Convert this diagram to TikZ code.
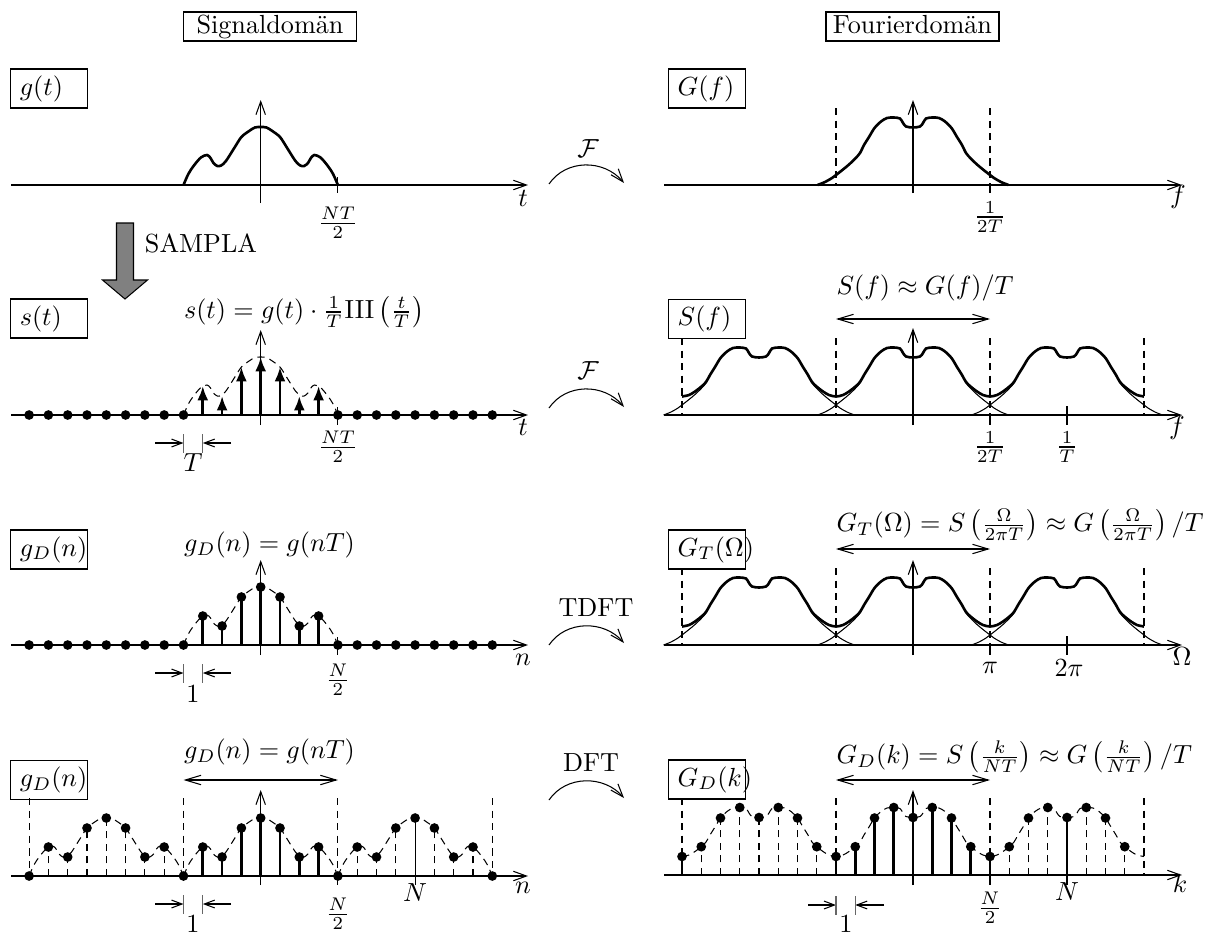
\documentclass[tikz,border=0pt]{standalone}
\usepackage{amsmath}
\usetikzlibrary{arrows.meta}
\tikzset{
  ax/.style={line width=0.4pt,-{Straight Barb[length=5pt,width=3.6pt]}},
  dax/.style={line width=0.4pt,{Straight Barb[length=6pt,width=3.6pt]}-{Straight Barb[length=6pt,width=3.6pt]}},
  thinln/.style={line width=0.4pt},
  crv/.style={line width=1pt},
  dsh/.style={line width=0.4pt,dash pattern=on 2.8pt off 2pt},
  stem/.style={line width=1pt},
  imp/.style={line width=1pt,-{Latex[length=5.5pt,width=4.2pt]}},
  lbox/.style={draw,line width=0.5pt,minimum height=14.9pt,text width=22.4pt,inner xsep=3.5pt,inner ysep=0pt,align=left},
  tbox/.style={draw,line width=0.5pt,minimum width=66pt,inner xsep=1.5pt,inner ysep=1pt,text height=7pt,text depth=2pt},
  mk/.style={line width=0.4pt,-{Straight Barb[length=4pt,width=3pt]}},
  tk/.style={line width=0.4pt},
  mktk/.style={line width=0.4pt,black!60},
  farc/.style={line width=0.4pt,-{Straight Barb[length=5pt,width=3.6pt]}},
  frm/.style={anchor=west,inner sep=0pt},
  lowlab/.style={inner sep=0pt},
}
\newcommand{\DotR}{1.85pt}
\newcommand{\SigCurve}[1]{\draw[#1] plot[smooth] coordinates {(-4,0) (-3.75,11) (-3.48,19) (-3.1,27.5) (-2.78,30) (-2.6,27) (-2.45,22) (-2.25,19) (-2.05,19.5) (-1.8,24) (-1.37,37) (-1,48) (-0.6,54) (-0.3,57.5) (0,58) (0.3,57.5) (0.6,54) (1,48) (1.37,37) (1.8,24) (2.05,19.5) (2.25,19) (2.45,22) (2.6,27) (2.78,30) (3.1,27.5) (3.48,19) (3.75,11) (4,0)};}
\newcommand{\FourThin}[1]{\draw[#1] plot[smooth] coordinates {(-95.5,0) (-88,3) (-81,7) (-77,10) (-70,15.5) (-64,20.5) (-57.75,26.5) (-53,32) (-49,40) (-44,48) (-38.5,57) (-32,63.5) (-26,67) (-19.25,67.5) (-13,66.5) (-10,62) (-7,58.5) (0,57.5) (7,58.5) (10,62) (13,66.5) (19.25,67.5) (26,67) (32,63.5) (38.5,57) (44,48) (49,40) (53,32) (57.75,26.5) (64,20.5) (70,15.5) (77,10) (81,7) (88,3) (95.5,0)};}
\newcommand{\FourPer}[1]{\draw[#1] plot[smooth] coordinates {(-231,18.5) (-224,20) (-218,23.5) (-211.75,28.3) (-207,33) (-203,40) (-198,48) (-192.5,57) (-186,63.5) (-180,67) (-173.25,67.5) (-167,66.5) (-164,62) (-161,58.5) (-154,57.5) (-147,58.5) (-144,62) (-141,66.5) (-134.75,67.5) (-128,67) (-122,63.5) (-115.5,57) (-110,48) (-105,40) (-101,33) (-96.25,28.3) (-90,23.5) (-84,20) (-77,18.5) (-70,20) (-64,23.5) (-57.75,28.3) (-53,33) (-49,40) (-44,48) (-38.5,57) (-32,63.5) (-26,67) (-19.25,67.5) (-13,66.5) (-10,62) (-7,58.5) (0,57.5) (7,58.5) (10,62) (13,66.5) (19.25,67.5) (26,67) (32,63.5) (38.5,57) (44,48) (49,40) (53,33) (57.75,28.3) (64,23.5) (70,20) (77,18.5) (84,20) (90,23.5) (96.25,28.3) (101,33) (105,40) (110,48) (115.5,57) (122,63.5) (128,67) (134.75,67.5) (141,66.5) (144,62) (147,58.5) (154,57.5) (161,58.5) (164,62) (167,66.5) (173.25,67.5) (180,67) (186,63.5) (192.5,57) (198,48) (203,40) (207,33) (211.75,28.3) (218,23.5) (224,20) (231,18.5)};}
\begin{document}
\begin{tikzpicture}[x=0.382pt,y=-0.382pt]
\useasboundingbox (0,0) rectangle (1216,934);

% titles
\node[tbox] (sigdom) at (270,26.5) {Signaldomän};
\node[tbox] (fourdom) at (912.5,26.5) {Fourierdomän};

% ================= LEFT ROW 1
\node[lbox] (gt) at (49.1,88.5) {$g(t)$};
\draw[ax] (11,185) -- (528,185);
\draw[ax] (260.7,203) -- (260.7,100);
\begin{scope}[shift={(260.7,185)},xscale=19.3,yscale=-1]
  \SigCurve{crv}
\end{scope}
\draw[tk] (337.9,177) -- (337.9,193);
\node (l1nt) at (337.9,223) {$\frac{NT}{2}$};
\node (l1t) at (523,198) {$t$};

% SAMPLA arrow
\draw[fill=gray,line width=0.4pt] (116.5,223) -- (133.5,223) -- (133.5,280) -- (147.5,280) -- (125,299) -- (102.5,280) -- (116.5,280) -- cycle;
\node (sampla) at (201,243) {SAMPLA};

% ================= LEFT ROW 2
\node[lbox] (st) at (49.1,318.5) {$s(t)$};
\node[frm] (stform) at (183.5,312) {$s(t)=g(t)\cdot\frac{1}{T}\mathrm{III}\left(\frac{t}{T}\right)$};
\draw[ax] (11,415) -- (528,415);
\draw[ax] (260.7,425) -- (260.7,330);
\begin{scope}[shift={(260.7,415)},xscale=19.3,yscale=-1]
  \SigCurve{dsh}
\end{scope}
\foreach \k/\h in {-3/29,-2/19,-1/48,0/58,1/48,2/19,3/29}
  \draw[imp] ({260.7+(\k)*19.3},415) -- ({260.7+(\k)*19.3},{415-\h});
\foreach \k in {-12,-11,-10,-9,-8,-7,-6,-5,-4,4,5,6,7,8,9,10,11,12}
  \fill ({260.7+(\k)*19.3},415) circle[radius=\DotR];
\draw[tk] (337.9,407) -- (337.9,425);
\node (l2nt) at (337.9,447) {$\frac{NT}{2}$};
\node (l2t) at (523,427) {$t$};
\draw[mk] (155,443) -- (183.5,443);
\draw[mk] (231,443) -- (202.8,443);
\draw[mktk] (183.5,434) -- (183.5,453);
\draw[mktk] (202.8,434) -- (202.8,453);
\node (l2T) at (193,463) {$T$};

% ================= LEFT ROW 3
\node[lbox] (gd3) at (49.1,549.5) {$g_D(n)$};
\node[frm] (gd3form) at (183.5,545) {$g_D(n)=g(nT)$};
\draw[ax] (11,645) -- (528,645);
\draw[ax] (260.7,655) -- (260.7,560);
\begin{scope}[shift={(260.7,645)},xscale=19.3,yscale=-1]
  \SigCurve{dsh}
\end{scope}
\foreach \k/\h in {-3/29,-2/19,-1/48,0/58,1/48,2/19,3/29}{
  \draw[stem] ({260.7+(\k)*19.3},645) -- ({260.7+(\k)*19.3},{645-\h});
  \fill ({260.7+(\k)*19.3},{645-\h}) circle[radius=\DotR];
}
\foreach \k in {-12,-11,-10,-9,-8,-7,-6,-5,-4,4,5,6,7,8,9,10,11,12}
  \fill ({260.7+(\k)*19.3},645) circle[radius=\DotR];
\draw[tk] (337.9,637) -- (337.9,655);
\node (l3n2) at (337.9,680) {$\frac{N}{2}$};
\node (l3n) at (523,660) {$n$};
\draw[mk] (155,673) -- (183.5,673);
\draw[mk] (231,673) -- (202.8,673);
\draw[mktk] (183.5,664) -- (183.5,683);
\draw[mktk] (202.8,664) -- (202.8,683);
\node[lowlab] (l3one) at (193,694) {$1$};

% ================= LEFT ROW 4
\node[lbox] (gd4) at (49.1,780) {$g_D(n)$};
\node[frm] (gd4form) at (183.5,752) {$g_D(n)=g(nT)$};
\draw[dax] (183.5,780) -- (337.9,780);
\draw[ax] (11,876) -- (528,876);
\draw[ax] (260.7,885) -- (260.7,790);
\foreach \xx in {29.1,183.5,337.9,492.3}
  \draw[dsh] (\xx,798) -- (\xx,876);
\foreach \cc in {-154.4,0,154.4}{
  \begin{scope}[shift={({260.7+\cc},876)},xscale=19.3,yscale=-1]
    \SigCurve{dsh}
  \end{scope}
}
\foreach \k/\h in {-3/29,-2/19,-1/48,0/58,1/48,2/19,3/29}{
  \draw[stem] ({260.7+(\k)*19.3},876) -- ({260.7+(\k)*19.3},{876-\h});
  \fill ({260.7+(\k)*19.3},{876-\h}) circle[radius=\DotR];
  \foreach \cc in {-8,8}{
    \draw[dsh] ({260.7+(\k+\cc)*19.3},876) -- ({260.7+(\k+\cc)*19.3},{876-\h});
    \fill ({260.7+(\k+\cc)*19.3},{876-\h}) circle[radius=\DotR];
  }
}
\foreach \k in {-12,-4,4,12}
  \fill ({260.7+(\k)*19.3},876) circle[radius=\DotR];
\draw[tk] (337.9,876) -- (337.9,885);
\draw[tk] (415.1,818) -- (415.1,885);
\node (l4n2) at (337.9,914) {$\frac{N}{2}$};
\node (l4N) at (415.1,893) {$N$};
\node (l4n) at (523,888) {$n$};
\draw[mk] (155,904) -- (183.5,904);
\draw[mk] (231,904) -- (202.8,904);
\draw[mktk] (183.5,895) -- (183.5,914);
\draw[mktk] (202.8,895) -- (202.8,914);
\node[lowlab] (l4one) at (193,924) {$1$};

% ================= TRANSFORM ARCS
\coordinate (a1s) at (549,184); \coordinate (a1e) at (624,183);
\draw[farc] (a1s) .. controls (566,159) and (604,159) .. (a1e);
\node (F1) at (588,149) {$\mathcal{F}$};
\coordinate (a2s) at (549,408); \coordinate (a2e) at (624,407);
\draw[farc] (a2s) .. controls (566,383) and (604,383) .. (a2e);
\node (F2) at (588,371) {$\mathcal{F}$};
\coordinate (a3s) at (549,645); \coordinate (a3e) at (624,643);
\draw[farc] (a3s) .. controls (566,620) and (604,620) .. (a3e);
\node (tdft) at (596,608) {TDFT};
\coordinate (a4s) at (549,800); \coordinate (a4e) at (624,798);
\draw[farc] (a4s) .. controls (566,775) and (604,775) .. (a4e);
\node (dft) at (591,763) {DFT};

% ================= RIGHT ROW 1
\node[lbox] (Gf) at (707,88.5) {$G(f)$};
\draw[ax] (664,185) -- (1182,185);
\draw[ax] (913,193) -- (913,100);
\draw[dsh] (836,108) -- (836,185);
\draw[dsh] (990,108) -- (990,185);
\draw[tk] (990,185) -- (990,193);
\begin{scope}[shift={(913,185)},yscale=-1]
  \FourThin{crv}
\end{scope}
\node (r1h) at (990,217) {$\frac{1}{2T}$};
\node (r1f) at (1178,197) {$f$};

% ================= RIGHT ROW 2
\node[lbox] (Sf) at (707,319) {$S(f)$};
\node[frm] (Sform) at (836,288) {$S(f)\approx G(f)/T$};
\draw[dax] (836,319) -- (990,319);
\draw[ax] (664,415) -- (1182,415);
\draw[ax] (913,425) -- (913,328);
\foreach \xx in {682,836,990,1144}
  \draw[dsh] (\xx,338) -- (\xx,415);
\draw[tk] (990,415) -- (990,425);
\draw[tk] (1067,406) -- (1067,425);
\foreach \cx in {759,913,1067}{
  \begin{scope}[shift={(\cx,415)},yscale=-1]
    \FourThin{thinln}
  \end{scope}
}
\begin{scope}[shift={(913,415)},yscale=-1]
  \FourPer{crv}
\end{scope}
\node (r2h) at (990,447) {$\frac{1}{2T}$};
\node (r2t) at (1067,447) {$\frac{1}{T}$};
\node (r2f) at (1177,428) {$f$};

% ================= RIGHT ROW 3
\node[lbox] (GT) at (707,549.5) {$G_T(\Omega)$};
\node[frm] (GTform) at (836,525) {$G_T(\Omega)=S\left(\frac{\Omega}{2\pi T}\right)\approx G\left(\frac{\Omega}{2\pi T}\right)/T$};
\draw[dax] (836,549) -- (990,549);
\draw[ax] (664,645) -- (1182,645);
\draw[ax] (913,655) -- (913,560);
\foreach \xx in {682,836,990,1144}
  \draw[dsh] (\xx,568) -- (\xx,645);
\draw[tk] (990,645) -- (990,655);
\draw[tk] (1067,636) -- (1067,655);
\foreach \cx in {759,913,1067}{
  \begin{scope}[shift={(\cx,645)},yscale=-1]
    \FourThin{thinln}
  \end{scope}
}
\begin{scope}[shift={(913,645)},yscale=-1]
  \FourPer{crv}
\end{scope}
\node (r3pi) at (990,668) {$\pi$};
\node (r3tpi) at (1069,668) {$2\pi$};
\node (r3O) at (1182,657) {$\Omega$};

% ================= RIGHT ROW 4
\node[lbox] (GDk) at (707,779.5) {$G_D(k)$};
\node[frm] (GDform) at (836,757) {$G_D(k)=S\left(\frac{k}{NT}\right)\approx G\left(\frac{k}{NT}\right)/T$};
\draw[dax] (836,780) -- (990,780);
\draw[ax] (664,875) -- (1182,875);
\draw[ax] (913,885) -- (913,790);
\foreach \xx in {682,836,990,1144}
  \draw[dsh] (\xx,798) -- (\xx,875);
\begin{scope}[shift={(913,875)},yscale=-1]
  \FourPer{dsh}
\end{scope}
\foreach \k/\h in {-4/18.5,-3/28.3,-2/57,-1/67.5,0/57.5,1/67.5,2/57,3/28.3}{
  \draw[stem] ({913+(\k)*19.25},875) -- ({913+(\k)*19.25},{875-\h});
  \fill ({913+(\k)*19.25},{875-\h}) circle[radius=\DotR];
  \foreach \cc in {-8,8}{
    \draw[dsh] ({913+(\k+\cc)*19.25},875) -- ({913+(\k+\cc)*19.25},{875-\h});
    \fill ({913+(\k+\cc)*19.25},{875-\h}) circle[radius=\DotR];
  }
}
\draw[tk] (990,856) -- (990,885);
\draw[tk] (1067,818) -- (1067,885);
\node (r4n2) at (990,908) {$\frac{N}{2}$};
\node (r4N) at (1067,892) {$N$};
\node (r4k) at (1180,883) {$k$};
\draw[mk] (808,905) -- (836,905);
\draw[mk] (884,905) -- (855.25,905);
\draw[mktk] (836,896) -- (836,915);
\draw[mktk] (855.25,896) -- (855.25,915);
\node[lowlab] (r4one) at (846,924) {$1$};
\end{tikzpicture}
\end{document}
